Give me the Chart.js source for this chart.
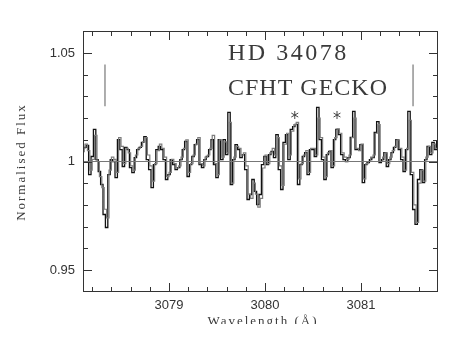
<!DOCTYPE html>
<html>
<head>
<meta charset="utf-8">
<script src="https://cdn.jsdelivr.net/npm/chart.js@4/dist/chart.umd.min.js"></script>
<style>
html,body{margin:0;padding:0;background:#fff;}
#wrap{width:451px;height:349px;}
</style>
</head>
<body>
<div id="wrap"><canvas id="c" width="451" height="349"></canvas></div>
<script>
// ---- data ----
const wavelength = [
3078.1,3078.125,3078.15,3078.175,3078.2,3078.225,3078.25,3078.275,3078.3,3078.325,
3078.35,3078.375,3078.4,3078.425,3078.45,3078.475,3078.5,3078.525,3078.55,3078.575,
3078.6,3078.625,3078.65,3078.675,3078.7,3078.725,3078.75,3078.775,3078.8,3078.825,
3078.85,3078.875,3078.9,3078.925,3078.95,3078.975,3079.0,3079.025,3079.05,3079.075,
3079.1,3079.125,3079.15,3079.175,3079.2,3079.225,3079.25,3079.275,3079.3,3079.325,
3079.35,3079.375,3079.4,3079.425,3079.45,3079.475,3079.5,3079.525,3079.55,3079.575,
3079.6,3079.625,3079.65,3079.675,3079.7,3079.725,3079.75,3079.775,3079.8,3079.825,
3079.85,3079.875,3079.9,3079.925,3079.95,3079.975,3080.0,3080.025,3080.05,3080.075,
3080.1,3080.125,3080.15,3080.175,3080.2,3080.225,3080.25,3080.275,3080.3,3080.325,
3080.35,3080.375,3080.4,3080.425,3080.45,3080.475,3080.5,3080.525,3080.55,3080.575,
3080.6,3080.625,3080.65,3080.675,3080.7,3080.725,3080.75,3080.775,3080.8,3080.825,
3080.85,3080.875,3080.9,3080.925,3080.95,3080.975,3081.0,3081.025,3081.05,3081.075,
3081.1,3081.125,3081.15,3081.175,3081.2,3081.225,3081.25,3081.275,3081.3,3081.325,
3081.35,3081.375,3081.4,3081.425,3081.45,3081.475,3081.5,3081.525,3081.55,3081.575,
3081.6,3081.625,3081.65,3081.675,3081.7,3081.725,3081.75,3081.775,3081.8
];
const fluxBlack = [
1.0046,1.0065,1.0074,0.9940,1.0023,1.0148,1.0009,0.9954,0.9894,0.9756,
0.9696,0.9940,1.0009,1.0000,0.9926,1.0101,1.0055,0.9977,1.0065,1.0055,
0.9972,0.9949,1.0018,1.0055,1.0065,1.0088,1.0115,1.0009,0.9963,0.9880,
0.9986,1.0055,1.0069,1.0055,1.0009,0.9917,0.9940,1.0009,0.9986,0.9963,
0.9972,1.0009,1.0055,1.0092,0.9931,0.9986,1.0023,1.0078,1.0101,0.9986,
0.9972,1.0009,1.0023,1.0055,1.0101,0.9986,0.9926,1.0101,1.0009,1.0101,
1.0032,1.0226,0.9894,1.0009,1.0078,1.0055,1.0018,1.0032,0.9963,0.9825,
0.9848,0.9917,0.9862,0.9802,0.9848,0.9986,1.0023,0.9986,1.0032,1.0046,
1.0018,1.0124,0.9963,0.9871,1.0088,1.0124,1.0009,1.0148,1.0161,1.0171,
0.9894,0.9986,1.0023,1.0041,0.9940,1.0055,1.0055,1.0023,1.0249,1.0101,
1.0009,0.9917,1.0032,1.0046,0.9972,1.0101,1.0148,1.0124,1.0032,1.0009,
1.0000,1.0018,1.0111,1.0231,1.0055,1.0055,1.0078,0.9903,0.9986,0.9995,
1.0009,1.0018,1.0134,1.0184,0.9995,1.0009,1.0041,0.9977,1.0009,1.0041,
1.0065,1.0101,1.0055,1.0009,0.9954,1.0055,1.0231,0.9940,0.9779,0.9710,
0.9917,0.9963,0.9903,1.0009,1.0069,1.0032,1.0088,1.0055,1.0092
];
const fluxGrey = [
1.0060,1.0080,1.0050,0.9960,1.0010,1.0120,1.0000,0.9930,0.9880,0.9780,
0.9740,0.9960,1.0020,1.0010,0.9950,1.0110,1.0070,0.9990,1.0060,1.0040,
0.9980,0.9960,1.0030,1.0060,1.0070,1.0090,1.0110,1.0030,0.9980,0.9910,
0.9990,1.0050,1.0080,1.0060,1.0020,0.9930,0.9950,1.0010,0.9990,0.9970,
0.9980,1.0020,1.0060,1.0100,0.9950,0.9990,1.0030,1.0080,1.0110,0.9990,
0.9980,1.0020,1.0030,1.0060,1.0120,0.9990,0.9940,1.0100,1.0020,1.0090,
1.0040,1.0180,0.9900,1.0020,1.0070,1.0060,1.0030,1.0040,0.9980,0.9850,
0.9830,0.9900,0.9850,0.9790,0.9830,0.9970,1.0030,0.9990,1.0040,1.0060,
1.0030,1.0110,0.9980,0.9890,1.0080,1.0130,1.0030,1.0140,1.0170,1.0180,
0.9920,0.9990,1.0030,1.0050,0.9950,1.0060,1.0060,1.0030,1.0200,1.0110,
1.0020,0.9930,1.0040,1.0050,0.9980,1.0110,1.0150,1.0130,1.0040,1.0020,
1.0010,1.0030,1.0110,1.0200,1.0060,1.0050,1.0080,0.9920,0.9990,1.0000,
1.0020,1.0030,1.0130,1.0170,1.0000,1.0020,1.0040,0.9990,1.0020,1.0050,
1.0070,1.0100,1.0060,1.0020,0.9960,1.0060,1.0190,0.9950,0.9800,0.9720,
0.9900,0.9960,0.9910,1.0020,1.0070,1.0040,1.0080,1.0060,1.0090
];
const continuumLevel = 1;
const xRange = [3078.104, 3081.802];
const yRange = [0.9399, 1.0601];
const markerWavelengths = [3078.333, 3081.542];
const markerFlux = [1.0254, 1.0447];
const starWavelengths = [3080.31, 3080.75];
const starFlux = [1.0214, 1.0214];
const xTickValues = [3079, 3080, 3081];
const xTickLabels = ['3079', '3080', '3081'];
const xMinorTicks = [3078.2,3078.4,3078.6,3078.8,3079.2,3079.4,3079.6,3079.8,3080.2,3080.4,3080.6,3080.8,3081.2,3081.4,3081.6];
const yTickValues = [0.95, 1, 1.05];
const yTickLabels = ['0.95', '1', '1.05'];
const yMinorTicks = [0.96,0.97,0.98,0.99,1.01,1.02,1.03,1.04];
const titleLines = ['HD 34078', 'CFHT GECKO'];
const xTitle = 'Wavelength (Å)';
const yTitle = 'Normalised Flux';

// ---- build datasets ----
const toPts = (xs, ys) => xs.map((v, i) => ({x: v, y: ys[i]}));
const datasets = [
  {data: toPts(wavelength, fluxBlack), borderColor: '#111', borderWidth: 1.3, stepped: 'middle', pointRadius: 0, fill: false, order: 2},
  {data: toPts(wavelength, fluxGrey), borderColor: '#7d7d7d', borderWidth: 1.2, stepped: 'before', pointRadius: 0, fill: false, order: 1},
  {data: [{x: xRange[0], y: continuumLevel}, {x: xRange[1], y: continuumLevel}], borderColor: '#777', borderWidth: 1, pointRadius: 0, order: 0},
];
markerWavelengths.forEach(w => {
  datasets.push({data: [{x: w, y: markerFlux[0]}, {x: w, y: markerFlux[1]}], borderColor: '#777', borderWidth: 1.2, pointRadius: 0, order: 0});
});

const overlay = {
  id: 'overlay',
  afterDraw(chart) {
    const {ctx, chartArea: a, scales: {x, y}} = chart;
    ctx.save();
    ctx.strokeStyle = '#333';
    ctx.lineWidth = 1;
    ctx.strokeRect(a.left + 0.5, a.top + 0.5, a.right - a.left - 1, a.bottom - a.top - 1);
    const tickX = (v, len) => {
      const p = Math.round(x.getPixelForValue(v)) + 0.5;
      ctx.beginPath();
      ctx.moveTo(p, a.bottom); ctx.lineTo(p, a.bottom - len);
      ctx.moveTo(p, a.top); ctx.lineTo(p, a.top + len);
      ctx.stroke();
    };
    const tickY = (v, len) => {
      const p = Math.round(y.getPixelForValue(v)) + 0.5;
      ctx.beginPath();
      ctx.moveTo(a.left, p); ctx.lineTo(a.left + len, p);
      ctx.moveTo(a.right, p); ctx.lineTo(a.right - len, p);
      ctx.stroke();
    };
    xMinorTicks.forEach(v => tickX(v, 5));
    xTickValues.forEach(v => tickX(v, 9));
    yMinorTicks.forEach(v => tickY(v, 5));
    yTickValues.forEach(v => tickY(v, 9));

    // asterisks
    ctx.strokeStyle = '#444';
    ctx.lineWidth = 1;
    starWavelengths.forEach((w, i) => {
      const cx = x.getPixelForValue(w), cy = y.getPixelForValue(starFlux[i]);
      const r = 4;
      ctx.beginPath();
      for (let k = 0; k < 3; k++) {
        const ang = Math.PI / 2 + k * Math.PI / 3;
        ctx.moveTo(cx + r * Math.cos(ang), cy + r * Math.sin(ang));
        ctx.lineTo(cx - r * Math.cos(ang), cy - r * Math.sin(ang));
      }
      ctx.stroke();
    });

    // title text
    ctx.fillStyle = '#3a3a3a';
    ctx.font = '24px "Liberation Serif"';
    ctx.letterSpacing = '2.5px';
    ctx.textAlign = 'left';
    ctx.textBaseline = 'alphabetic';
    ctx.fillText(titleLines[0], 228, 60);
    ctx.letterSpacing = '1px';
    ctx.fillText(titleLines[1], 228, 95);

    // y title
    ctx.font = '13px "Liberation Serif"';
    ctx.letterSpacing = '2px';
    ctx.textAlign = 'center';
    ctx.textBaseline = 'middle';
    ctx.save();
    ctx.translate(22, 162);
    ctx.rotate(-Math.PI / 2);
    ctx.fillText(yTitle, 0, 0);
    ctx.restore();

    // x title (clipped at bottom like the reference)
    ctx.save();
    ctx.beginPath();
    ctx.rect(0, 0, 451, 324);
    ctx.clip();
    ctx.textBaseline = 'alphabetic';
    ctx.fillText(xTitle, 263, 325);
    ctx.restore();
    ctx.restore();
  }
};

new Chart(document.getElementById('c'), {
  type: 'line',
  data: {datasets},
  options: {
    responsive: false,
    devicePixelRatio: 1,
    animation: false,
    events: [],
    layout: {padding: {left: 0, right: 13, top: 31, bottom: 0}},
    plugins: {legend: {display: false}, tooltip: {enabled: false}},
    scales: {
      x: {
        type: 'linear', min: xRange[0], max: xRange[1],
        grid: {display: false, drawTicks: false},
        border: {display: false},
        afterBuildTicks: s => { s.ticks = xTickValues.map(v => ({value: v})); },
        afterFit: s => { s.height = 57; },
        ticks: {
          padding: 6, color: '#333', maxRotation: 0,
          font: {family: '"Liberation Sans", Arial, sans-serif', size: 13},
          callback: v => xTickLabels[xTickValues.indexOf(v)]
        }
      },
      y: {
        type: 'linear', min: yRange[0], max: yRange[1],
        grid: {display: false, drawTicks: false},
        border: {display: false},
        afterBuildTicks: s => { s.ticks = yTickValues.map(v => ({value: v})); },
        afterFit: s => { s.width = 83; },
        ticks: {
          padding: 8, color: '#333',
          font: {family: '"Liberation Sans", Arial, sans-serif', size: 13},
          callback: v => yTickLabels[yTickValues.indexOf(v)]
        }
      }
    }
  },
  plugins: [overlay]
});
</script>
</body>
</html>
